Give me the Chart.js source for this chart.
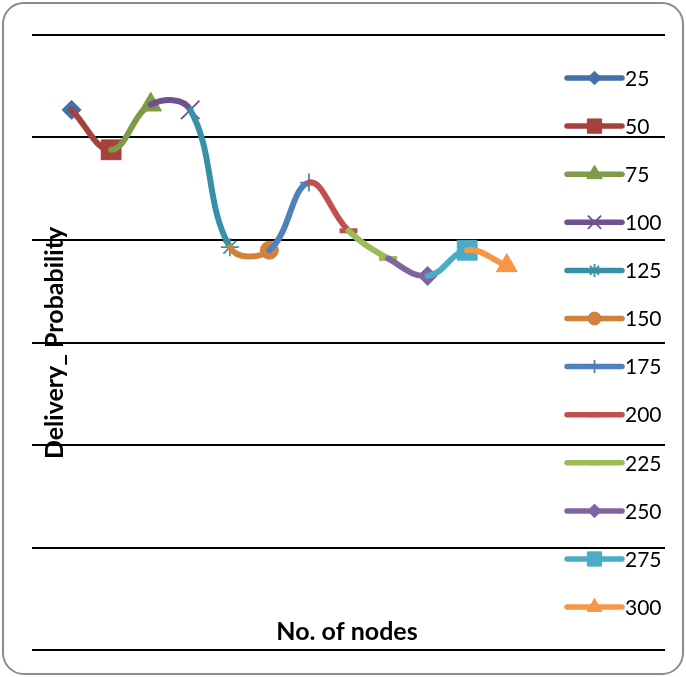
<!DOCTYPE html>
<html>
<head>
<meta charset="utf-8">
<script src="https://cdn.jsdelivr.net/npm/chart.js@4"></script>
<style>
  html, body { margin: 0; padding: 0; background: #fff; }
  #wrap { position: relative; width: 686px; height: 677px; }
  #chart { position: absolute; left: 0; top: 0; }
  #frame {
    position: absolute; left: 2px; top: 2px; width: 682px; height: 673px;
    box-sizing: border-box; border: 2px solid #8c8c8c; border-radius: 22px;
    pointer-events: none;
  }
</style>
</head>
<body>
<div id="wrap">
  <canvas id="chart" width="686" height="677"></canvas>
  <div id="frame"></div>
</div>
<script>
'use strict'

// one series per node count, each one draws the segment that ends at its point
const nodeCounts = ['25', '50', '75', '100', '125', '150', '175', '200', '225', '250', '275', '300']
const deliveryProb = [0.527, 0.488, 0.532, 0.527, 0.393, 0.390, 0.456, 0.409, 0.382, 0.365, 0.390, 0.375]
const seriesColors = ['#4470A8', '#A6413E', '#7F9A48', '#6F5091', '#3890A6', '#D2813A',
  '#4F81BD', '#C0504D', '#9BBB59', '#8064A2', '#4BACC6', '#F79646']
const markerStyles = ['rectRot', 'rect', 'triangle', 'crossRot', 'star', 'circle',
  'cross', 'line', 'line', 'rectRot', 'rect', 'triangle']
const markerSizes = [9.5, 14, 12.5, 13, 9, 9, 9, 9, 9, 9.5, 14, 12]
const yTicks = [0, 0.1, 0.2, 0.3, 0.4, 0.5, 0.6]

const xTitle = 'No. of nodes'
const yTitle = 'Delivery_ Probability'

function markerBorder(style) {
  if (style === 'line') return 5
  if (style === 'cross' || style === 'crossRot' || style === 'star') return 1.8
  return 1
}

const points = deliveryProb.map((v, i) => ({ x: i + 1, y: v }))

const datasets = nodeCounts.map((name, k) => ({
  label: name,
  data: points,
  order: nodeCounts.length - k,
  borderColor: seriesColors[k],
  backgroundColor: seriesColors[k],
  borderWidth: 6,
  borderCapStyle: 'round',
  tension: 0.4,
  pointStyle: markerStyles[k],
  pointBorderWidth: markerBorder(markerStyles[k]),
  pointBorderColor: seriesColors[k],
  pointBackgroundColor: seriesColors[k],
  pointRadius: (ctx) => (ctx.dataIndex === k ? markerSizes[k] : 0),
  pointHoverRadius: (ctx) => (ctx.dataIndex === k ? markerSizes[k] : 0),
  segment: {
    borderColor: (ctx) => (ctx.p1DataIndex === k ? seriesColors[k] : 'rgba(0,0,0,0)'),
  },
}))

// Excel-like legend drawn over the plot, plus the two axis titles
const overlayPlugin = {
  id: 'overlay',
  afterDraw(chart) {
    const ctx = chart.ctx
    ctx.save()
    chart.data.datasets.forEach((ds, k) => {
      const y = 78 + k * 48.1
      ctx.lineCap = 'round'
      ctx.lineWidth = 5.5
      ctx.strokeStyle = ds.borderColor
      ctx.beginPath()
      ctx.moveTo(567, y)
      ctx.lineTo(622, y)
      ctx.stroke()
      ctx.lineCap = 'butt'
      ctx.fillStyle = ds.borderColor
      ctx.strokeStyle = ds.borderColor
      ctx.lineWidth = ds.pointBorderWidth
      Chart.helpers.drawPoint(ctx, {
        pointStyle: ds.pointStyle,
        radius: markerSizes[k] * 0.72,
        rotation: 0,
        borderWidth: ds.pointBorderWidth,
      }, 594.5, y)
      ctx.fillStyle = '#000'
      ctx.font = '21px Lato'
      ctx.textBaseline = 'middle'
      ctx.textAlign = 'left'
      ctx.fillText(ds.label, 625, y + 1)
    })

    ctx.fillStyle = '#000'
    ctx.font = 'bold 25px Lato'
    ctx.textAlign = 'center'
    ctx.textBaseline = 'middle'
    ctx.fillText(xTitle, 347, 632)

    ctx.translate(55, 343)
    ctx.rotate(-Math.PI / 2)
    ctx.fillText(yTitle, 0, 0)
    ctx.restore()
  },
}

new Chart(document.getElementById('chart'), {
  type: 'line',
  data: { datasets },
  plugins: [overlayPlugin],
  options: {
    responsive: false,
    animation: false,
    layout: { padding: { left: 32, right: 21, top: 35, bottom: 27 } },
    plugins: {
      legend: { display: false },
      tooltip: { enabled: false },
    },
    scales: {
      x: { type: 'linear', min: 0, max: 16, display: false },
      y: {
        min: yTicks[0],
        max: yTicks[yTicks.length - 1],
        afterBuildTicks(scale) {
          scale.ticks = yTicks.map((v) => ({ value: v }))
        },
        ticks: { display: false },
        border: { display: false },
        grid: { color: '#000', lineWidth: 2, drawTicks: false },
      },
    },
  },
})
</script>
</body>
</html>
